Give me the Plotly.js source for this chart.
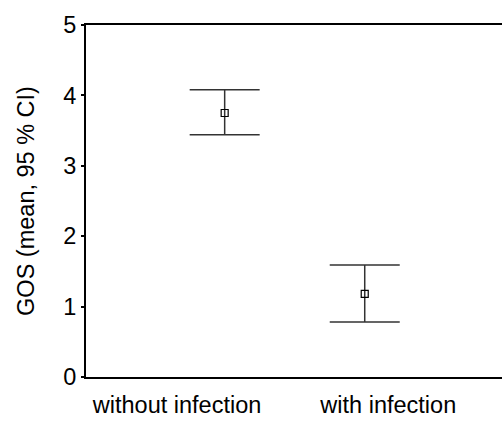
<!DOCTYPE html>
<html>
<head>
<meta charset="utf-8">
<script src="https://cdn.plot.ly/plotly-3.0.1.min.js"></script>
<style>html,body{margin:0;padding:0;background:#fff;}#chart{width:502px;height:421px;}</style>
</head>
<body>
<div id="chart"></div>
<script>
const categories = ["without infection", "with infection"];
const groupPos = [0, 1];
const labelPos = [-0.34, 1.168];
const means = [3.75, 1.18];
const upper = [4.08, 1.59];
const lower = [3.44, 0.78];
const yTicks = [0, 1, 2, 3, 4, 5];

const plus = upper.map((u, i) => u - means[i]);
const minus = lower.map((l, i) => means[i] - l);

const trace = {
  type: 'scatter',
  mode: 'markers',
  x: groupPos,
  y: means,
  marker: {symbol: 'square-open', size: 7, color: '#000', line: {width: 1.2, color: '#000'}},
  error_y: {type: 'data', symmetric: false, array: plus, arrayminus: minus, width: 35, thickness: 1.5, color: '#333'},
  hoverinfo: 'none',
  showlegend: false
};

const font = {family: 'Liberation Sans, Arial, sans-serif', size: 23.5, color: '#000'};

const layout = {
  width: 502, height: 421,
  margin: {l: 86, r: 0, t: 25, b: 44},
  paper_bgcolor: '#fff', plot_bgcolor: '#fff',
  font: font,
  xaxis: {
    range: [-0.99, 1.98],
    tickmode: 'array', tickvals: labelPos, ticktext: categories,
    ticks: '', showgrid: false, zeroline: false,
    showline: true, linecolor: '#000', linewidth: 2, mirror: true,
    tickfont: font, ticklabelstandoff: 6
  },
  yaxis: {
    range: [0, 5],
    tickmode: 'array', tickvals: yTicks,
    ticks: 'outside', ticklen: 3, tickwidth: 2, tickcolor: '#000',
    showgrid: false, zeroline: false,
    showline: true, linecolor: '#000', linewidth: 2,
    tickfont: font,
    title: {text: 'GOS (mean, 95 % CI)', font: font, standoff: 22}
  }
};

Plotly.newPlot('chart', [trace], layout, {displayModeBar: false, staticPlot: true});
</script>
</body>
</html>
